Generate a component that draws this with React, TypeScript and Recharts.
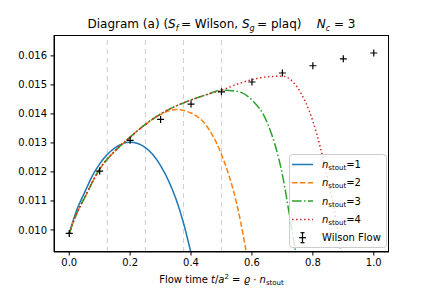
import { ComposedChart, Line, Scatter, XAxis, YAxis, ReferenceLine } from 'recharts';

// Wilson flow reference points
const wilsonT = [0, 0.1, 0.2, 0.3, 0.4, 0.5, 0.6, 0.7, 0.8, 0.9, 1.0];
const wilsonE = [0.00988, 0.01203, 0.01309, 0.01381, 0.01434, 0.01476, 0.0151, 0.01541, 0.01566, 0.0159, 0.0161];

// stout smearing curves
const stout1T = [0, 0.025, 0.05, 0.075, 0.1, 0.15, 0.2, 0.25, 0.3, 0.35, 0.375, 0.4];
const stout1E = [0.00988, 0.0107, 0.01128, 0.01185, 0.01228, 0.01283, 0.01302, 0.01284, 0.01222, 0.01108, 0.01025, 0.0092];

const stout2T = [0, 0.025, 0.05, 0.1, 0.15, 0.2, 0.25, 0.3, 0.35, 0.4, 0.45, 0.5, 0.55, 0.6];
const stout2E = [0.00988, 0.01058, 0.0111, 0.0121, 0.01272, 0.0132, 0.01364, 0.01398, 0.01415, 0.01403, 0.0136, 0.0126, 0.0109, 0.0081];

const stout3T = [0, 0.025, 0.05, 0.1, 0.15, 0.2, 0.25, 0.3, 0.35, 0.4, 0.45, 0.5, 0.55, 0.6, 0.65, 0.7, 0.725, 0.75];
const stout3E = [0.00988, 0.01058, 0.0111, 0.0121, 0.01272, 0.0132, 0.01364, 0.014, 0.01427, 0.01448, 0.01466, 0.01482, 0.01478, 0.01448, 0.0137, 0.0119, 0.0104, 0.0088];

const stout4T = [0, 0.025, 0.05, 0.1, 0.15, 0.2, 0.25, 0.3, 0.35, 0.4, 0.45, 0.5, 0.55, 0.6, 0.65, 0.7, 0.75, 0.8, 0.85, 0.875, 0.9];
const stout4E = [0.00988, 0.01058, 0.0111, 0.0121, 0.01272, 0.0132, 0.01364, 0.014, 0.01427, 0.01448, 0.01466, 0.01481, 0.01502, 0.01518, 0.01528, 0.0153, 0.0149, 0.01375, 0.0117, 0.0104, 0.0087];

const xTicks = [0, 0.2, 0.4, 0.6, 0.8, 1.0];
const yTicks = [0.01, 0.011, 0.012, 0.013, 0.014, 0.015, 0.016];
const guideLines = [0.125, 0.25, 0.375, 0.5];

const toPts = (xs: number[], ys: number[]) => xs.map((x, i) => ({ x, y: ys[i] }));

const FONT = '"DejaVu Sans", sans-serif';

const series = [
    { name: '1', t: stout1T, e: stout1E, color: '#1f77b4', dash: undefined },
    { name: '2', t: stout2T, e: stout2E, color: '#ff7f0e', dash: '5.5 2.4' },
    { name: '3', t: stout3T, e: stout3E, color: '#2ca02c', dash: '9.6 2.4 1.5 2.4' },
    { name: '4', t: stout4T, e: stout4E, color: '#d62728', dash: '1.5 2.5' },
];

function PlusMark(props: any) {
    const { cx, cy } = props;
    return <path d={`M${cx - 3.5},${cy}h7M${cx},${cy - 3.5}v7`} stroke="#000" strokeWidth={1.2} fill="none" />;
}

function Overlay() {
    const rowY = [164.5, 182.8, 201.1, 219.4, 237.7];
    return (
        <svg width={432} height={288} style={{ position: 'absolute', left: 0, top: 0, pointerEvents: 'none' }} fontFamily={FONT}>
            {/* frame */}
            <rect x={54.5} y={35.5} width={334} height={216} fill="none" stroke="#000" strokeWidth={1} />

            {/* title */}
            <text x={221.5} y={28} fontSize={12} textAnchor="middle" fill="#000">
                Diagram (a) (<tspan fontStyle="italic">S</tspan><tspan fontSize={8} dy={2.5} fontStyle="italic">f</tspan><tspan dy={-2.5}>{'\u2009= Wilson, '}</tspan>
                <tspan fontStyle="italic">S</tspan><tspan fontSize={8} dy={2.5} fontStyle="italic">g</tspan><tspan dy={-2.5}>{'\u2009= plaq)\u00a0\u00a0\u00a0\u00a0'}</tspan>
                <tspan fontStyle="italic">N</tspan><tspan fontSize={8} dy={2.5} fontStyle="italic">c</tspan><tspan dy={-2.5}>{' = 3'}</tspan>
            </text>

            {/* x label */}
            <text x={221.5} y={283} fontSize={10} textAnchor="middle" fill="#000">
                Flow time <tspan fontStyle="italic">t</tspan>/<tspan fontStyle="italic">a</tspan><tspan fontSize={7} dy={-4}>2</tspan><tspan dy={4}> = </tspan>
                <tspan fontStyle="italic">ϱ</tspan> · <tspan fontStyle="italic">n</tspan><tspan fontSize={7} dy={2}>stout</tspan>
            </text>

            {/* legend */}
            <rect x={289.5} y={154.5} width={97} height={93} rx={3} fill="#fff" fillOpacity={0.8} stroke="#cccccc" />
            {series.map((s, i) => (
                <g key={s.name}>
                    <line x1={292} x2={313} y1={rowY[i]} y2={rowY[i]} stroke={s.color} strokeWidth={1.5} strokeDasharray={s.dash} />
                    <text x={322} y={rowY[i] + 3.5} fontSize={10} fill="#000">
                        <tspan fontStyle="italic">n</tspan><tspan fontSize={7} dy={2}>stout</tspan><tspan dy={-2}>={s.name}</tspan>
                    </text>
                </g>
            ))}
            <g stroke="#000" strokeWidth={1.2}>
                <line x1={302.5} x2={302.5} y1={rowY[4] - 5} y2={rowY[4] + 5} />
                <line x1={300.5} x2={304.5} y1={rowY[4] - 5} y2={rowY[4] - 5} />
                <line x1={300.5} x2={304.5} y1={rowY[4] + 5} y2={rowY[4] + 5} />
                <line x1={299} x2={306} y1={rowY[4]} y2={rowY[4]} />
            </g>
            <text x={322} y={rowY[4] + 3.5} fontSize={10} fill="#000">Wilson Flow</text>
        </svg>
    );
}

export default function App() {
    return (
        <div style={{ position: 'absolute', left: 0, top: 0, width: 432, height: 288, background: '#fff' }}>
            <ComposedChart width={432} height={288} margin={{ top: 35, right: 43, bottom: 0, left: 0 }}>
                <XAxis
                    dataKey="x"
                    type="number"
                    domain={[-0.05, 1.05]}
                    ticks={xTicks}
                    allowDataOverflow
                    height={36}
                    tickSize={3.5}
                    tickMargin={3}
                    stroke="#000"
                    tick={{ fill: '#000', fontSize: 10, fontFamily: FONT }}
                    tickFormatter={(v) => v.toFixed(1)}
                />
                <YAxis
                    type="number"
                    domain={[0.00924, 0.01672]}
                    ticks={yTicks}
                    allowDataOverflow
                    width={54}
                    tickSize={3.5}
                    tickMargin={3.5}
                    stroke="#000"
                    tick={{ fill: '#000', fontSize: 10, fontFamily: FONT }}
                    tickFormatter={(v) => v.toFixed(3)}
                />
                {guideLines.map((g) => (
                    <ReferenceLine key={g} x={g} stroke="#cfcfcf" strokeWidth={1} strokeDasharray="5 4" />
                ))}
                {series.map((s) => (
                    <Line
                        key={s.name}
                        data={toPts(s.t, s.e)}
                        dataKey="y"
                        type="monotone"
                        stroke={s.color}
                        strokeWidth={1.5}
                        strokeDasharray={s.dash}
                        dot={false}
                        isAnimationActive={false}
                    />
                ))}
                <Scatter data={toPts(wilsonT, wilsonE)} dataKey="y" shape={PlusMark} isAnimationActive={false} />
            </ComposedChart>
            <Overlay />
        </div>
    );
}
